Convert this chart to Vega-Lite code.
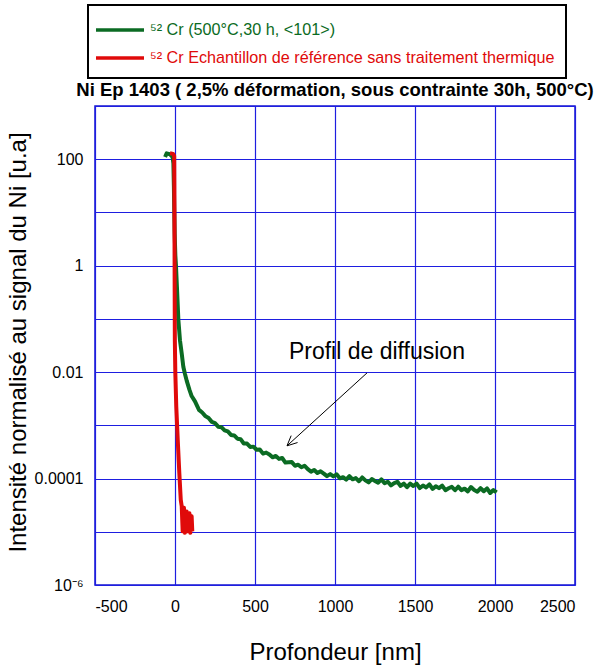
{
  "$schema": "https://vega.github.io/schema/vega-lite/v6.json",
  "width": 480,
  "height": 479,
  "autosize": {"type": "none"},
  "padding": {"left": 95, "top": 106, "right": 20, "bottom": 83},
  "background": "white",
  "config": {
    "font": "Liberation Sans",
    "view": {"stroke": "#1414d2", "strokeWidth": 1.5}
  },
  "title": {
    "text": "Ni Ep 1403 ( 2,5% déformation, sous contrainte 30h, 500°C)",
    "fontSize": 18.5,
    "fontWeight": "bold",
    "font": "Liberation Sans",
    "color": "#000000",
    "anchor": "middle",
    "baseline": "alphabetic",
    "offset": 9,
    "dy": 119
  },
  "datasets": {
    "curves": [
      {"s": "g", "i": 0, "x": -62, "y": 110},
      {"s": "g", "i": 1, "x": -52, "y": 129},
      {"s": "g", "i": 2, "x": -40, "y": 126},
      {"s": "g", "i": 3, "x": -31, "y": 123},
      {"s": "g", "i": 4, "x": -15, "y": 110},
      {"s": "g", "i": 5, "x": -10, "y": 83.2},
      {"s": "g", "i": 6, "x": -7, "y": 31.6},
      {"s": "g", "i": 7, "x": -5, "y": 12.6},
      {"s": "g", "i": 8, "x": -2, "y": 3.98},
      {"s": "g", "i": 9, "x": 2, "y": 1.58},
      {"s": "g", "i": 10, "x": 6, "y": 1.0},
      {"s": "g", "i": 11, "x": 12, "y": 0.398},
      {"s": "g", "i": 12, "x": 21, "y": 0.0955},
      {"s": "g", "i": 13, "x": 31, "y": 0.0398},
      {"s": "g", "i": 14, "x": 42, "y": 0.0224},
      {"s": "g", "i": 15, "x": 52, "y": 0.0126},
      {"s": "g", "i": 16, "x": 62, "y": 0.00933},
      {"s": "g", "i": 17, "x": 73, "y": 0.00692},
      {"s": "g", "i": 18, "x": 90, "y": 0.00468},
      {"s": "g", "i": 19, "x": 104, "y": 0.00355},
      {"s": "g", "i": 20, "x": 125, "y": 0.00282},
      {"s": "g", "i": 21, "x": 150, "y": 0.00195},
      {"s": "g", "i": 22, "x": 170, "y": 0.00174},
      {"s": "g", "i": 23, "x": 190, "y": 0.00149},
      {"s": "g", "i": 24, "x": 210, "y": 0.00137},
      {"s": "g", "i": 25, "x": 230, "y": 0.00116},
      {"s": "g", "i": 26, "x": 250, "y": 0.0011},
      {"s": "g", "i": 27, "x": 270, "y": 0.000944},
      {"s": "g", "i": 28, "x": 290, "y": 0.000923},
      {"s": "g", "i": 29, "x": 310, "y": 0.000804},
      {"s": "g", "i": 30, "x": 330, "y": 0.000767},
      {"s": "g", "i": 31, "x": 350, "y": 0.000661},
      {"s": "g", "i": 32, "x": 370, "y": 0.000646},
      {"s": "g", "i": 33, "x": 390, "y": 0.000562},
      {"s": "g", "i": 34, "x": 410, "y": 0.00055},
      {"s": "g", "i": 35, "x": 430, "y": 0.000457},
      {"s": "g", "i": 36, "x": 450, "y": 0.000454},
      {"s": "g", "i": 37, "x": 470, "y": 0.000392},
      {"s": "g", "i": 38, "x": 490, "y": 0.000398},
      {"s": "g", "i": 39, "x": 510, "y": 0.000348},
      {"s": "g", "i": 40, "x": 530, "y": 0.00035},
      {"s": "g", "i": 41, "x": 550, "y": 0.000294},
      {"s": "g", "i": 42, "x": 570, "y": 0.000307},
      {"s": "g", "i": 43, "x": 590, "y": 0.000284},
      {"s": "g", "i": 44, "x": 610, "y": 0.000251},
      {"s": "g", "i": 45, "x": 630, "y": 0.000266},
      {"s": "g", "i": 46, "x": 650, "y": 0.000234},
      {"s": "g", "i": 47, "x": 670, "y": 0.000243},
      {"s": "g", "i": 48, "x": 690, "y": 0.0002},
      {"s": "g", "i": 49, "x": 710, "y": 0.000203},
      {"s": "g", "i": 50, "x": 730, "y": 0.000204},
      {"s": "g", "i": 51, "x": 750, "y": 0.000174},
      {"s": "g", "i": 52, "x": 770, "y": 0.000182},
      {"s": "g", "i": 53, "x": 790, "y": 0.000163},
      {"s": "g", "i": 54, "x": 810, "y": 0.000174},
      {"s": "g", "i": 55, "x": 830, "y": 0.00015},
      {"s": "g", "i": 56, "x": 850, "y": 0.000135},
      {"s": "g", "i": 57, "x": 870, "y": 0.000145},
      {"s": "g", "i": 58, "x": 890, "y": 0.000127},
      {"s": "g", "i": 59, "x": 910, "y": 0.000137},
      {"s": "g", "i": 60, "x": 930, "y": 0.000124},
      {"s": "g", "i": 61, "x": 950, "y": 0.000111},
      {"s": "g", "i": 62, "x": 970, "y": 0.000121},
      {"s": "g", "i": 63, "x": 990, "y": 0.00011},
      {"s": "g", "i": 64, "x": 1010, "y": 0.00012},
      {"s": "g", "i": 65, "x": 1030, "y": 0.000101},
      {"s": "g", "i": 66, "x": 1050, "y": 0.000106},
      {"s": "g", "i": 67, "x": 1070, "y": 0.0000957},
      {"s": "g", "i": 68, "x": 1090, "y": 0.000111},
      {"s": "g", "i": 69, "x": 1110, "y": 0.0000968},
      {"s": "g", "i": 70, "x": 1130, "y": 0.000102},
      {"s": "g", "i": 71, "x": 1150, "y": 0.0000891},
      {"s": "g", "i": 72, "x": 1170, "y": 0.000105},
      {"s": "g", "i": 73, "x": 1190, "y": 0.0000923},
      {"s": "g", "i": 74, "x": 1210, "y": 0.0000847},
      {"s": "g", "i": 75, "x": 1230, "y": 0.0000977},
      {"s": "g", "i": 76, "x": 1250, "y": 0.0000904},
      {"s": "g", "i": 77, "x": 1270, "y": 0.0000836},
      {"s": "g", "i": 78, "x": 1290, "y": 0.0000966},
      {"s": "g", "i": 79, "x": 1310, "y": 0.0000817},
      {"s": "g", "i": 80, "x": 1330, "y": 0.0000871},
      {"s": "g", "i": 81, "x": 1350, "y": 0.0000746},
      {"s": "g", "i": 82, "x": 1370, "y": 0.0000822},
      {"s": "g", "i": 83, "x": 1390, "y": 0.0000867},
      {"s": "g", "i": 84, "x": 1410, "y": 0.0000726},
      {"s": "g", "i": 85, "x": 1430, "y": 0.0000802},
      {"s": "g", "i": 86, "x": 1450, "y": 0.0000689},
      {"s": "g", "i": 87, "x": 1470, "y": 0.0000802},
      {"s": "g", "i": 88, "x": 1490, "y": 0.0000724},
      {"s": "g", "i": 89, "x": 1510, "y": 0.0000805},
      {"s": "g", "i": 90, "x": 1530, "y": 0.0000664},
      {"s": "g", "i": 91, "x": 1550, "y": 0.0000738},
      {"s": "g", "i": 92, "x": 1570, "y": 0.0000682},
      {"s": "g", "i": 93, "x": 1590, "y": 0.0000778},
      {"s": "g", "i": 94, "x": 1610, "y": 0.0000637},
      {"s": "g", "i": 95, "x": 1630, "y": 0.0000719},
      {"s": "g", "i": 96, "x": 1650, "y": 0.0000661},
      {"s": "g", "i": 97, "x": 1670, "y": 0.0000735},
      {"s": "g", "i": 98, "x": 1690, "y": 0.0000605},
      {"s": "g", "i": 99, "x": 1710, "y": 0.0000658},
      {"s": "g", "i": 100, "x": 1730, "y": 0.0000698},
      {"s": "g", "i": 101, "x": 1750, "y": 0.0000603},
      {"s": "g", "i": 102, "x": 1770, "y": 0.0000702},
      {"s": "g", "i": 103, "x": 1790, "y": 0.0000605},
      {"s": "g", "i": 104, "x": 1810, "y": 0.0000646},
      {"s": "g", "i": 105, "x": 1830, "y": 0.0000575},
      {"s": "g", "i": 106, "x": 1850, "y": 0.0000692},
      {"s": "g", "i": 107, "x": 1870, "y": 0.0000611},
      {"s": "g", "i": 108, "x": 1890, "y": 0.0000566},
      {"s": "g", "i": 109, "x": 1910, "y": 0.0000659},
      {"s": "g", "i": 110, "x": 1930, "y": 0.0000577},
      {"s": "g", "i": 111, "x": 1950, "y": 0.0000652},
      {"s": "g", "i": 112, "x": 1970, "y": 0.0000535},
      {"s": "g", "i": 113, "x": 1990, "y": 0.0000608},
      {"s": "g", "i": 114, "x": 2010, "y": 0.000055},
      {"s": "r", "i": 0, "x": -31, "y": 129},
      {"s": "r", "i": 1, "x": -12, "y": 126},
      {"s": "r", "i": 2, "x": -5, "y": 115},
      {"s": "r", "i": 3, "x": -4, "y": 31.6},
      {"s": "r", "i": 4, "x": -3, "y": 3.16},
      {"s": "r", "i": 5, "x": -2, "y": 0.316},
      {"s": "r", "i": 6, "x": -1, "y": 0.0398},
      {"s": "r", "i": 7, "x": 2, "y": 0.00977},
      {"s": "r", "i": 8, "x": 8, "y": 0.00224},
      {"s": "r", "i": 9, "x": 17, "y": 0.000537},
      {"s": "r", "i": 10, "x": 27, "y": 0.000126},
      {"s": "r", "i": 11, "x": 36, "y": 0.0000398},
      {"s": "r", "i": 12, "x": 42, "y": 0.0000302},
      {"s": "r", "i": 13, "x": 48, "y": 0.0000102},
      {"s": "r", "i": 14, "x": 56, "y": 0.0000282},
      {"s": "r", "i": 15, "x": 62, "y": 0.00000955},
      {"s": "r", "i": 16, "x": 73, "y": 0.000024},
      {"s": "r", "i": 17, "x": 79, "y": 0.0000102},
      {"s": "r", "i": 18, "x": 90, "y": 0.0000224},
      {"s": "r", "i": 19, "x": 96, "y": 0.00000955},
      {"s": "r", "i": 20, "x": 104, "y": 0.0000195},
      {"s": "r", "i": 21, "x": 108, "y": 0.0000102}
    ],
    "note": [
      {"x": 1262, "y": 0.024, "t": "Profil de diffusion"}
    ],
    "arrow": [
      {"x": 1200, "y": 0.00966, "x2": 700, "y2": 0.000412},
      {"x": 700, "y": 0.000412, "x2": 766, "y2": 0.000475},
      {"x": 700, "y": 0.000412, "x2": 726, "y2": 0.000641}
    ]
  },
  "layer": [
    {
      "data": {"name": "curves"},
      "transform": [{"filter": "datum.s == 'g'"}],
      "mark": {"type": "line", "strokeWidth": 4, "strokeJoin": "round", "clip": true},
      "encoding": {
        "x": {
          "field": "x",
          "type": "quantitative",
          "scale": {"domain": [-500, 2500], "nice": false, "zero": false},
          "axis": {
            "values": [-500, 0, 500, 1000, 1500, 2000, 2500],
            "labelExpr": "'' + datum.value",
            "grid": true,
            "gridColor": "#1e1ee0",
            "gridWidth": 1.2,
            "ticks": false,
            "domain": false,
            "labelFontSize": 16,
            "labelColor": "#000000",
            "labelPadding": 13,
            "labelFont": "Liberation Sans",
            "title": "Profondeur [nm]",
            "titleFontSize": 24,
            "titleFontWeight": "normal",
            "titleColor": "#000000",
            "titleFont": "Liberation Sans",
            "titlePadding": 26
          }
        },
        "y": {
          "field": "y",
          "type": "quantitative",
          "scale": {"type": "log", "domain": [0.000001, 1000], "nice": false},
          "axis": {
            "values": [0.000001, 0.00001, 0.0001, 0.001, 0.01, 0.1, 1, 10, 100, 1000],
            "labelExpr": "datum.value == 100 ? '100' : datum.value == 1 ? '1' : datum.value == 0.01 ? '0.01' : datum.value == 0.0001 ? '0.0001' : datum.value == 0.000001 ? '10⁻⁶' : ''",
            "grid": true,
            "gridColor": "#1e1ee0",
            "gridWidth": 1.2,
            "ticks": false,
            "domain": false,
            "labelFontSize": 16,
            "labelColor": "#000000",
            "labelPadding": 12,
            "labelFont": "Liberation Sans",
            "title": "Intensité normalisé au signal du Ni [u.a]",
            "titleFontSize": 24,
            "titleFontWeight": "normal",
            "titleColor": "#000000",
            "titleFont": "Liberation Sans",
            "titlePadding": 4,
            "titleY": 236
          }
        },
        "order": {"field": "i", "type": "quantitative"},
        "color": {
          "field": "s",
          "type": "nominal",
          "scale": {"domain": ["g", "r"], "range": ["#0b6b23", "#e00a0a"]},
          "legend": {
            "orient": "none",
            "legendX": -7,
            "legendY": -101,
            "title": null,
            "symbolType": "M-2,0H2",
            "symbolSize": 576,
            "symbolStrokeWidth": 3.5,
            "symbolOffset": 7,
            "labelFontSize": 16.2,
            "labelFont": "Liberation Sans",
            "labelOffset": 16,
            "labelLimit": 600,
            "rowPadding": 5,
            "padding": 11,
            "strokeColor": "#000000",
            "fillColor": "#ffffff",
            "labelExpr": "datum.value == 'g' ? '⁵² Cr (500°C,30 h, <101>)' : '⁵² Cr Echantillon de référence sans traitement thermique'",
            "encode": {
              "labels": {"update": {"fill": {"signal": "datum.value == 'g' ? '#0b6b23' : '#e00a0a'"}}},
              "legend": {"update": {"strokeWidth": {"value": 2}}}
            }
          }
        }
      }
    },
    {
      "data": {"name": "curves"},
      "transform": [{"filter": "datum.s == 'r'"}],
      "mark": {"type": "line", "strokeWidth": 4, "strokeJoin": "round", "clip": true},
      "encoding": {
        "x": {"field": "x", "type": "quantitative"},
        "y": {"field": "y", "type": "quantitative"},
        "order": {"field": "i", "type": "quantitative"},
        "color": {"field": "s", "type": "nominal"}
      }
    },
    {
      "data": {"name": "arrow"},
      "mark": {"type": "rule", "color": "#000000", "strokeWidth": 1},
      "encoding": {
        "x": {"field": "x", "type": "quantitative"},
        "y": {"field": "y", "type": "quantitative"},
        "x2": {"field": "x2"},
        "y2": {"field": "y2"}
      }
    },
    {
      "data": {"name": "note"},
      "mark": {"type": "text", "fontSize": 23, "font": "Liberation Sans", "color": "#000000", "align": "center", "baseline": "middle"},
      "encoding": {
        "x": {"field": "x", "type": "quantitative"},
        "y": {"field": "y", "type": "quantitative"},
        "text": {"field": "t"}
      }
    }
  ]
}
